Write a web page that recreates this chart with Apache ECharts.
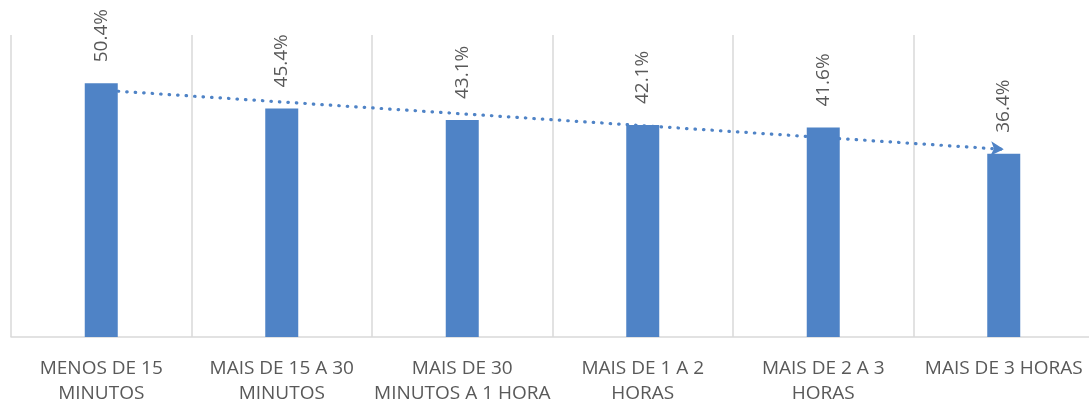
<!DOCTYPE html>
<html><head><meta charset="utf-8">
<script src="https://cdn.jsdelivr.net/npm/echarts@6/dist/echarts.min.js"></script>
<style>html,body{margin:0;padding:0;background:#fff}#c{width:1089px;height:400px}</style>
</head><body><div id="c"></div>
<script>
const categories = ['MENOS DE 15\nMINUTOS','MAIS DE 15 A 30\nMINUTOS','MAIS DE 30\nMINUTOS A 1 HORA','MAIS DE 1 A 2\nHORAS','MAIS DE 2 A 3\nHORAS','MAIS DE 3 HORAS'];
const values = [50.4, 45.4, 43.1, 42.1, 41.6, 36.4];
// trend line end points (first and last category)
const trendStart = 49.05;
const trendEnd = 37.28;

const blue = '#4f83c6';
const chart = echarts.init(document.getElementById('c'));
chart.setOption({
  animation: false,
  grid: {left: 11, top: 35, width: 1083, height: 302, containLabel: false, outerBoundsMode: 'none'},
  xAxis: {
    type: 'category', data: categories, boundaryGap: true,
    axisLine: {show: true, lineStyle: {color: '#d9d9d9', width: 1.5}},
    axisTick: {show: false},
    splitLine: {show: true, lineStyle: {color: '#d9d9d9', width: 1.5}},
    axisLabel: {interval: 0, color: '#595959', fontFamily: 'Open Sans', fontSize: 19, lineHeight: 25, margin: 19}
  },
  yAxis: {type: 'value', min: 0, max: 60, show: false},
  series: [
    {
      type: 'bar', data: values, barWidth: 33, z: 3,
      itemStyle: {color: blue},
      label: {show: true, position: 'top', rotate: 90, align: 'left', verticalAlign: 'middle', distance: 21,
        color: '#595959', fontFamily: 'Open Sans', fontSize: 19,
        formatter: p => p.value.toFixed(1) + '%'}
    },
    {
      type: 'line', data: [], z: 1, silent: true,
      markLine: {
        silent: true, z: 1, symbol: ['none', 'arrow'], symbolSize: [11, 13],
        label: {show: false},
        lineStyle: {color: blue, width: 3.2, type: [0.5, 8], cap: 'round', opacity: 1},
        data: [[{coord: [0, trendStart]}, {coord: [5, trendEnd]}]]
      }
    }
  ]
});
</script></body></html>
